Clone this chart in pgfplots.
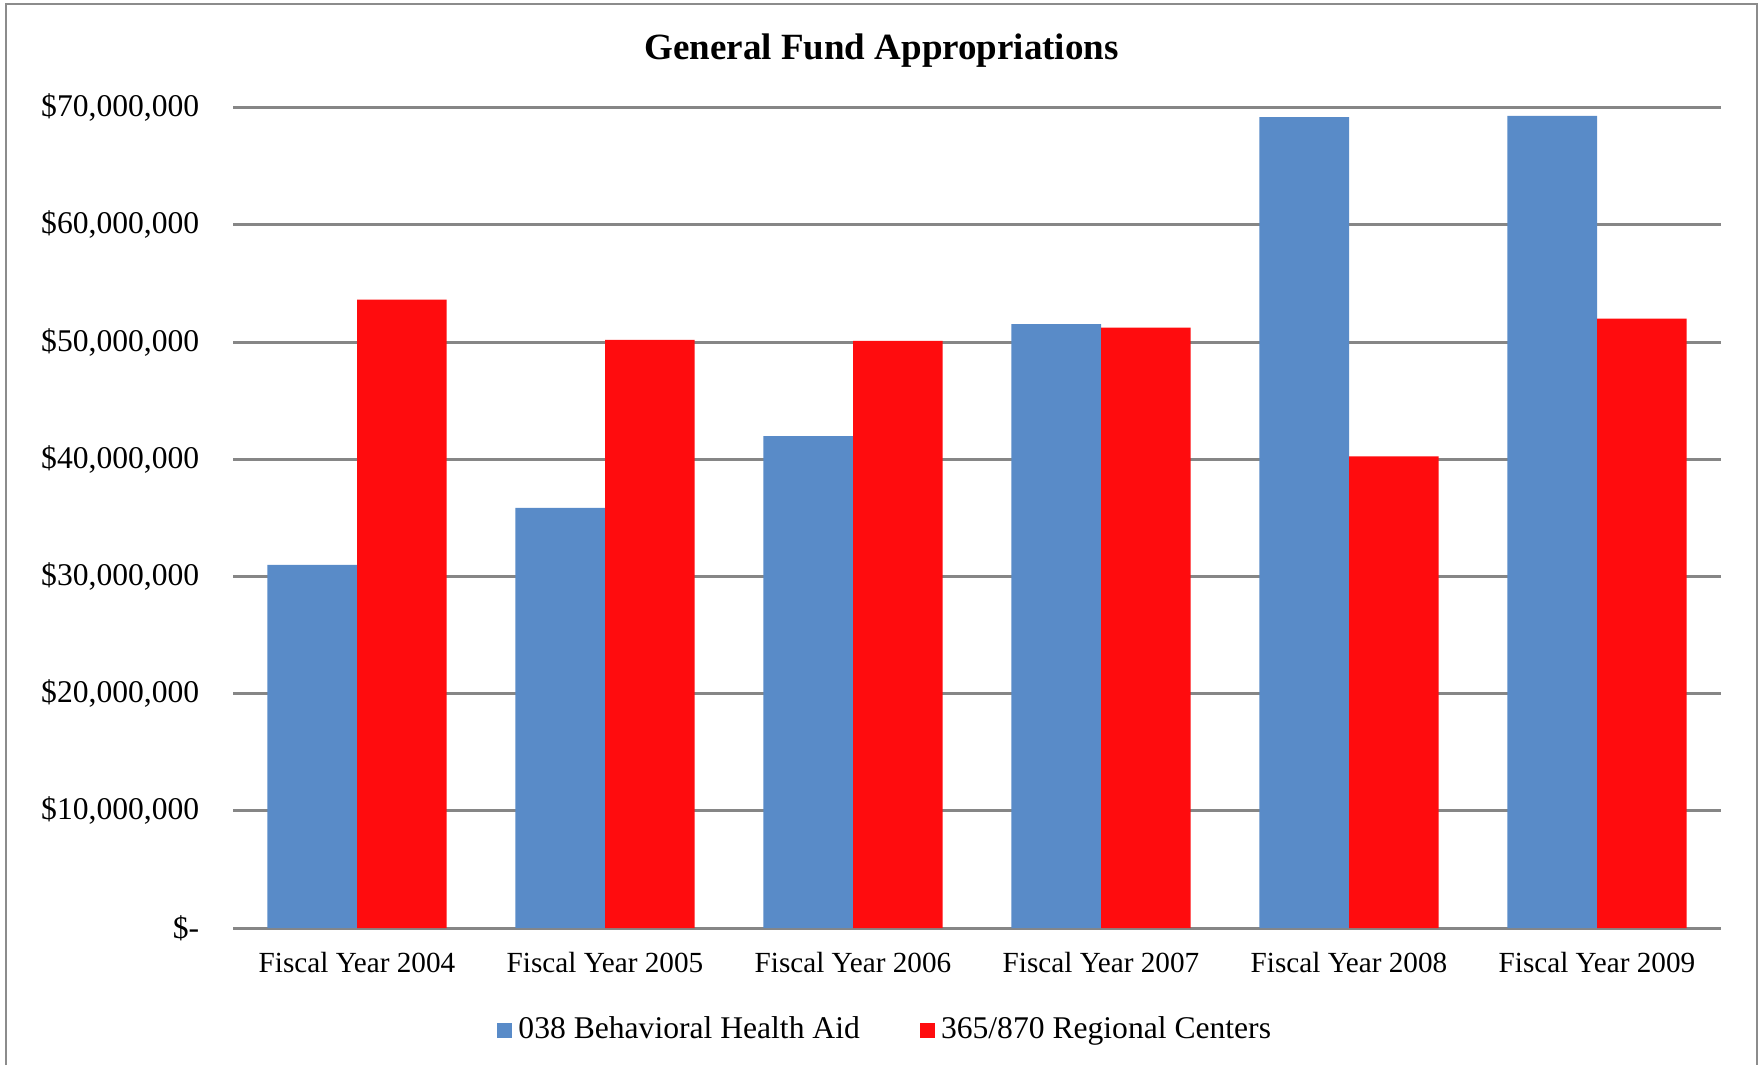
\documentclass[border=0pt]{standalone}
\usepackage{fontspec}
\setmainfont{Liberation Serif}
\usepackage{pgfplots}
\pgfplotsset{compat=1.18}
\definecolor{barblue}{RGB}{89,139,200}
\definecolor{barred}{RGB}{255,12,14}
\definecolor{gridgray}{RGB}{134,134,134}
\definecolor{framegray}{RGB}{140,140,140}
\begin{document}
\begin{tikzpicture}
\useasboundingbox (0,0) rectangle (439.5pt,266.25pt);
\fill[white] (0,0) rectangle (439.5pt,266.25pt);
\draw[framegray, line width=0.5pt] (1.6pt,0) -- (1.6pt,265.3pt) -- (439.25pt,265.3pt) -- (439.25pt,0);
\node[anchor=base, font=\fontsize{9.25pt}{11pt}\selectfont\bfseries] at (220.4pt,251.4pt) {General Fund Appropriations};
\begin{axis}[
  at={(58.25pt,34.2pt)}, anchor=south west,
  scale only axis, width=372pt, height=205.15pt,
  ybar=0pt, bar width=22.4pt,
  xmin=-0.5, xmax=5.5, ymin=0, ymax=70000000,
  xtick={0,1,2,3,4,5},
  xticklabels={Fiscal Year 2004,Fiscal Year 2005,Fiscal Year 2006,Fiscal Year 2007,Fiscal Year 2008,Fiscal Year 2009},
  ytick={0,10000000,20000000,30000000,40000000,50000000,60000000,70000000},
  yticklabels={\$-,{\$10,000,000},{\$20,000,000},{\$30,000,000},{\$40,000,000},{\$50,000,000},{\$60,000,000},{\$70,000,000}},
  scaled y ticks=false,
  axis line style={draw=none},
  major tick length=0pt,
  ymajorgrids, major grid style={gridgray, line width=0.75pt},
  xticklabel style={anchor=base, inner sep=0pt, yshift=-11.1pt, font=\fontsize{7.3pt}{9pt}\selectfont},
  yticklabel style={anchor=east, inner sep=0pt, xshift=-8.25pt, font=\fontsize{7.9pt}{9pt}\selectfont},
  legend columns=2,
  legend image code/.code={\fill[#1] (0pt,-1.9pt) rectangle (3.8pt,1.9pt);},
  legend style={at={(0.1776,-0.1251)}, anchor=west, draw=none, fill=none,
    inner sep=0pt, outer sep=0pt,
    nodes={inner sep=0pt, font=\fontsize{7.9pt}{9pt}\selectfont},
    /tikz/every odd column/.style={column sep=1.5pt},
    /tikz/every even column/.style={column sep=15pt}},
]
\addplot[fill=barblue, draw=none] coordinates {(0,31000000) (1,35850000) (2,41970000) (3,51530000) (4,69200000) (5,69300000)};
\addplot[fill=barred, draw=none] coordinates {(0,53630000) (1,50190000) (2,50100000) (3,51240000) (4,40250000) (5,52000000)};
\legend{038 Behavioral Health Aid,365/870 Regional Centers}
\end{axis}
\end{tikzpicture}
\end{document}
